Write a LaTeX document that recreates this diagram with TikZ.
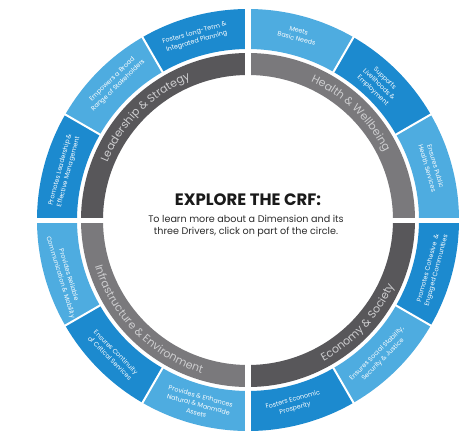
\documentclass[tikz,border=0pt]{standalone}
\usepackage{fontspec}
\setmainfont{Poppins}
\usetikzlibrary{decorations.text}
\definecolor{dblue}{RGB}{28,138,207}
\definecolor{lblue}{RGB}{78,172,224}
\definecolor{dgray}{RGB}{88,87,90}
\definecolor{mgray}{RGB}{122,121,124}
\definecolor{lgtext}{RGB}{205,205,207}
\definecolor{titlec}{RGB}{26,26,26}
\definecolor{subc}{RGB}{45,45,45}
\newcommand\ringseg[5]{\fill[#1] (#2:#5) arc[start angle=#2, end angle=#3, radius=#5] -- (#3:#4) arc[start angle=#3, end angle=#2, radius=#4] -- cycle;}
\tikzset{
  drv/.style={text=white, align=center, font=\fontsize{6.4}{8.6}\selectfont, inner sep=0pt},
  sepline/.style={white, line width=2pt},
  dimtext/.style={decorate, decoration={text along path, text align=center, text color=lgtext}}
}
\begin{document}
\begin{tikzpicture}[x=1pt,y=1pt]
\useasboundingbox (-248,-217) rectangle (226,220);
\fill[white] (-248,-217) rectangle (226,220);
% gray dimension ring
\ringseg{dgray}{90}{180}{145}{167}
\ringseg{mgray}{0}{90}{145}{167}
\ringseg{dgray}{-90}{0}{145}{167}
\ringseg{mgray}{180}{270}{145}{167}
% blue driver ring
\ringseg{dblue}{90}{120}{171}{211}
\ringseg{lblue}{120}{150}{171}{211}
\ringseg{dblue}{150}{180}{171}{211}
\ringseg{lblue}{60}{90}{171}{211}
\ringseg{dblue}{30}{60}{171}{211}
\ringseg{lblue}{0}{30}{171}{211}
\ringseg{dblue}{-30}{0}{171}{211}
\ringseg{lblue}{-60}{-30}{171}{211}
\ringseg{dblue}{-90}{-60}{171}{211}
\ringseg{lblue}{180}{210}{171}{211}
\ringseg{dblue}{210}{240}{171}{211}
\ringseg{lblue}{240}{270}{171}{211}
% separators
\foreach \a in {30,60,120,150,210,240,300,330}
  \draw[sepline] (\a:169) -- (\a:214);
\fill[white] (-3,-216) rectangle (3,216);
\fill[white] (-216,-2.5) rectangle (216,2.5);
% dimension labels
\path[dimtext, decoration={text={|\fontsize{11}{13}\selectfont|Leadership {\&} Strategy}}] (180:152) arc[start angle=180, end angle=90, radius=152];
\path[dimtext, decoration={text={|\fontsize{11}{13}\selectfont|Health {\&} Wellbeing}}] (91:152) arc[start angle=91, end angle=1, radius=152];
\path[dimtext, decoration={text={|\fontsize{11}{13}\selectfont|Economy {\&} Society}}] (-88:160) arc[start angle=-88, end angle=2, radius=160];
\path[dimtext, decoration={text={|\fontsize{11}{13}\selectfont|Infrastructure {\&} Environment}}] (180:160) arc[start angle=180, end angle=270, radius=160];
% driver labels
\node[drv, rotate=16] (d1) at (106:190) {Fosters Long-Term \&\\Integrated Planning};
\node[drv, rotate=44] (d2) at (134:191) {Empowers a Broad\\Range of Stakeholders};
\node[drv, rotate=75] (d3) at (165:190) {Promotes Leadership \&\\Effective Management};
\node[drv, rotate=-15] (d4) at (75:192) {Meets\\Basic Needs};
\node[drv, rotate=-44] (d5) at (46:188) {Supports\\Livelihoods \&\\Employment};
\node[drv, rotate=-74] (d6) at (16:191) {Ensures Public\\Health Services};
\node[drv, rotate=75] (d7) at (-15:191) {Promotes Cohesive \ \&\\Engaged Communities};
\node[drv, rotate=45] (d8) at (-46:190) {Ensures Social Stability,\\Security \& Justice};
\node[drv, rotate=15] (d9) at (-76:190) {Fosters Economic\\Prosperity};
\node[drv, rotate=-73] (d10) at (197:192) {Provides Reliable\\Communication \& Mobility};
\node[drv, rotate=-45] (d11) at (225:191) {Ensures Continuity\\of Critical Services};
\node[drv, rotate=-15] (d12) at (255:191) {Provides \& Enhances\\Natural \& Manmade\\Assets};
% centre text
\node[text=titlec, font=\bfseries\fontsize{16.5}{18}\selectfont, inner sep=0pt] (title) at (0,20) {EXPLORE THE CRF:};
\node[text=subc, font=\fontsize{9.6}{12}\selectfont, align=center, inner sep=0pt] (sub) at (-2,-6) {To learn more about a Dimension and its\\three Drivers, click on part of the circle.};
\end{tikzpicture}
\end{document}
